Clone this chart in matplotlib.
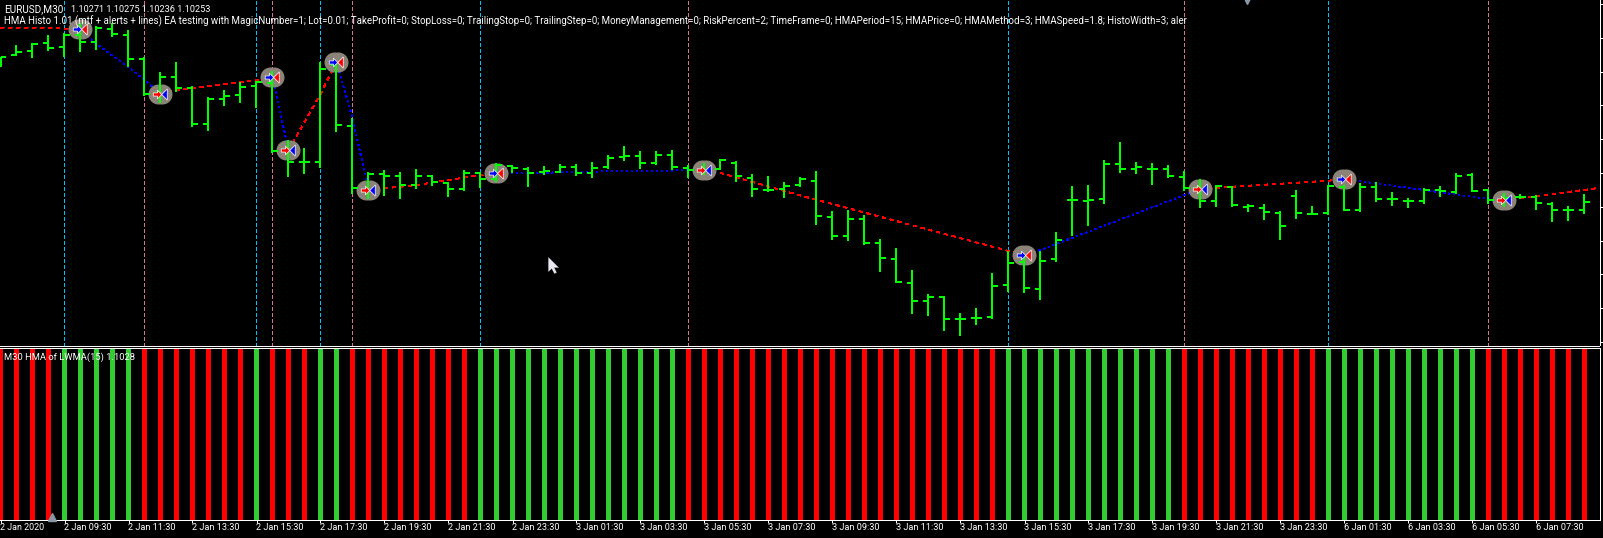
import matplotlib
matplotlib.use("Agg")
import matplotlib.pyplot as plt
from matplotlib.path import Path
from matplotlib.collections import LineCollection

W, H = 1603, 538

# Chart levels (the price scale has no visible labels; level grows downward)
highs = [56.7,45,43,35,33,23,26,23,30,57,72.3,61.7,86,97.3,90,81.7,81,71,140,148,61.7,63,117.7,172.3,170,
         171.7,169.3,175,182,170,172,163.3,165.3,167.3,166,164,164,162,155,146,151,151,150,165,163.3,159.3,161,174,176,182,
         177.3,171,211.3,210,215,239,248,270,294,296.3,313,308,273,251,255,251,232,186,185,160,142,162,163,165,171,
         179,184.7,186,204,204,211,190,206,185,185,183.3,182,192,198,188.3,186,173,173,189,193,194,195,202,206,194]
lows = [66.7,56,58,50.7,56.7,51.7,50,37,66.7,95.7,103,91.7,126.7,130.7,106,103.3,107.7,153.3,176.7,174,167.7,131.7,194,199,195.7,
        199,189.3,186,196.7,190.7,188,181.7,172.7,187,175,172.7,176,178,169,161,169,165,170,178,175,170,182,197,192,198,
        186.7,225,240,240.7,245,272,283,314,316,331,336,325,319,292,293,300,262,236,226,204,173,174,185,178,191,
        208,207,207,212,220,240,219,215,215,210.7,212,202,206,208,204,197,194,192,204,207,199,210,222,221,214]
opens = [60,55,51,43.3,46.7,35,41.7,29,35,59,93,76.7,88.3,124,99.3,95,86,83,150,162.3,161.7,65,126,190,174.3,
         175.7,185,176,183,189,172.7,179,166,169,172,172,166.7,173,167,156.7,156,163,154.7,168,170,169,163.3,178,190,189,
         185,181,216.7,236,219,243,259,283,301,296.7,319,318,317,285,262,289,259,200,201,199,164,169,169,169,177,
         188,201,186.7,206.7,208,213,196,214,213,186.7,210,186.7,199,201,201,190,192,175,190,200,196.7,197,204,210,210]
closes = [56.7,51.7,44,47.7,35,41.7,28.3,34.3,59,94.3,77.3,88.3,124,99.3,96,86.7,81.7,150.7,161.7,162.3,69,125,188.3,174.3,175.7,
          185,176,182,189,172.7,179,165,168.3,173,171,166.7,173,168,158,156,162.7,154.7,167,170,170,160,176,189,190,186,
          179.3,216,236,219,243,258,282,301,297,319,319,318,286,263,288,261,240,200,200,164,169,167,169,176,188,
          201,186,205,206,212,226,213,214,186,210,186.7,199,199,201,190,191,176,191,200,198,196.7,203,210,210,202]

# Histogram direction per bar: g = rising, r = falling
hist_dir = list("rrrr" "ggggg" "rrrrrrr" "g" "rrr" "gg" "rrrrrrrr" "ggggggggggggg"
                "rrrrrrrrrrrrrrrrrrrr" "ggggggggggg" "rrrrrrrrr" "gggggggggg" "rrrrrrr")

# Bars carrying a trade's vertical line
buy_lines = [4, 16, 20, 30, 63, 83]
sell_lines = [9, 17, 22, 43, 74, 93]

# Trade markers (bar index, level, kind)
trade_bars = [5, 10, 17, 18, 21, 23, 31, 44, 64, 75, 84, 94]
trade_levels = [29, 94, 77, 150, 62, 190, 173, 170, 255, 189, 179, 200]
trade_kinds = ["b", "r", "b", "r", "b", "r", "b", "r", "b", "r", "b", "r"]

# Connecting lines between trades, in bar index / level
red_segments = [
    ([0, 4, 5], [27.7, 28.5, 29]),
    ([10, 11, 16, 17], [94, 90, 80, 77]),
    ([18, 20, 21], [150, 94, 62]),
    ([23, 26, 30, 31], [190, 185, 175, 173]),
    ([44, 45, 50, 63, 64], [170, 173, 195.5, 251, 255]),
    ([75, 76, 83, 84], [189, 187.7, 180.7, 179]),
    ([94, 99.9], [200, 188]),
]
blue_segments = [
    ([5, 6, 8, 9, 10], [29, 44, 67, 80, 94]),
    ([17, 18], [77, 150]),
    ([21, 22, 23], [62, 118, 190]),
    ([31, 33, 37.5, 42, 44], [173, 173, 171.5, 170.5, 170]),
    ([64, 65, 74, 75], [255, 250, 195, 189]),
    ([84, 93, 94], [179, 199, 200]),
]

tick_idx = list(range(0, 100, 4))
tick_labels = ["2 Jan 2020", "2 Jan 09:30", "2 Jan 11:30", "2 Jan 13:30", "2 Jan 15:30", "2 Jan 17:30",
               "2 Jan 19:30", "2 Jan 21:30", "2 Jan 23:30", "3 Jan 01:30", "3 Jan 03:30", "3 Jan 05:30",
               "3 Jan 07:30", "3 Jan 09:30", "3 Jan 11:30", "3 Jan 13:30", "3 Jan 15:30", "3 Jan 17:30",
               "3 Jan 19:30", "3 Jan 21:30", "3 Jan 23:30", "6 Jan 01:30", "6 Jan 03:30", "6 Jan 05:30",
               "6 Jan 07:30"]
price_ticks = [4.2, 37.9, 71.6, 105.3, 139, 173, 207, 241, 274, 308, 342]

symbol_text = "EURUSD,M30"
ohlc_text = "1.10271 1.10275 1.10236 1.10253"
header2 = ("HMA Histo 1.01 (mtf + alerts + lines) EA testing with MagicNumber=1; Lot=0.01; TakeProfit=0; "
           "StopLoss=0; TrailingStop=0; TrailingStep=0; MoneyManagement=0; RiskPercent=2; TimeFrame=0; "
           "HMAPeriod=15; HMAPrice=0; HMAMethod=3; HMASpeed=1.8; HistoWidth=3; aler")
sub_label = "M30 HMA of LWMA(15) 1.1028"

PX = 0.72  # one pixel in points at dpi 100
GREEN, LIME, RED, BLUE = "#32CD32", "#00FF00", "#FF0000", "#0000FF"
plt.rcParams["font.family"] = ["Roboto", "DejaVu Sans"]

fig = plt.figure(figsize=(W / 100, H / 100), dpi=100, facecolor="black")
renderer = fig.canvas.get_renderer()

def box(x0, y0, x1, y1):
    return [x0 / W, 1 - y1 / H, (x1 - x0) / W, (y1 - y0) / H]

def fit(text, width_px):
    text.set_fontsize(text.get_fontsize() * width_px / text.get_window_extent(renderer).width)
    return text

ax = fig.add_axes(box(0, 0, 1599.5, 345.5), facecolor="black")
sub = fig.add_axes(box(0, 347.5, 1599.5, 519.5), facecolor="black")
xlim = (-0.5 / 16, 1599 / 16)
ax.set_xlim(xlim)
sub.set_xlim(xlim)
ax.set_ylim(345.5, 0)
sub.set_ylim(0, 1)

for a in (ax, sub):
    for s in a.spines.values():
        s.set_color("white")
        s.set_linewidth(PX)
ax.spines["left"].set_visible(False)
ax.spines["top"].set_visible(False)
sub.spines["left"].set_visible(False)

# price axis ticks
ax.yaxis.tick_right()
ax.set_yticks(price_ticks)
ax.set_yticklabels([])
ax.tick_params(axis="y", colors="white", length=3 * PX, width=PX, direction="out")
ax.set_xticks([])
sub.set_yticks([])
sub.set_xticks(tick_idx)
sub.set_xticklabels([])
sub.tick_params(axis="x", colors="white", length=3 * PX, width=PX, direction="out")
for i, t in zip(tick_idx, tick_labels):
    lab = sub.annotate(t, (i, 0), xycoords=("data", "axes fraction"), xytext=(0, -8.6 * PX * 0.92),
                       textcoords="offset points", color="white", fontsize=7.5, ha="left", va="center",
                       annotation_clip=False)
    fit(lab, 44 if t == "2 Jan 2020" else 47.5)

# vertical trade lines
for a in (ax, sub):
    a.vlines(buy_lines, 0, 1, transform=a.get_xaxis_transform(), colors="#00BFFF",
             linewidth=PX, linestyles=[(0, (4, 2.5))], zorder=1, antialiased=False)
    a.vlines(sell_lines, 0, 1, transform=a.get_xaxis_transform(), colors="#DB7093",
             linewidth=PX, linestyles=[(0, (4, 2.5))], zorder=1, antialiased=False)

# histogram
sub.bar(range(len(hist_dir)), [1] * len(hist_dir), width=5 / 16, bottom=0,
        color=[GREEN if d == "g" else RED for d in hist_dir], linewidth=0, zorder=2)

# connecting lines
for xs, ys in red_segments:
    ax.plot(xs, ys, color=RED, lw=PX, ls=(0, (3, 5)), zorder=2, antialiased=False)
for xs, ys in blue_segments:
    ax.plot(xs, ys, color=BLUE, lw=PX, ls=(0, (1.5, 4)), zorder=2, antialiased=False)

# marker discs
disc_size = (20 * PX) ** 2
for off in (-2 / 16, 2 / 16):
    ax.scatter([b + off for b in trade_bars], trade_levels, s=disc_size, color="#8B8378",
               linewidths=0, zorder=3)

# OHLC bars
idx = range(len(highs))
tick = 5.5 / 16
segs = [[(i, h), (i, l)] for i, h, l in zip(idx, highs, lows)]
segs += [[(i - tick, o), (i, o)] for i, o in zip(idx, opens)]
segs += [[(i, c), (i + tick, c)] for i, c in zip(idx, closes)]
ax.add_collection(LineCollection(segs, colors=LIME, linewidths=2 * PX, capstyle="butt", zorder=4))

# trade arrows
arrow = Path([(-4, -1.5), (0, -1.5), (0, -4), (4, 0), (0, 4), (0, 1.5), (-4, 1.5), (-4, -1.5)], closed=True)
tri = Path([(2.5, -5), (2.5, 5), (-2.5, 0), (2.5, -5)], closed=True)
for b, lv, k in zip(trade_bars, trade_levels, trade_kinds):
    c1, c2 = (BLUE, RED) if k == "b" else (RED, BLUE)
    ax.plot([b - 3.2 / 16], [lv], marker=arrow, ms=8.5 * PX, mfc=c1, mec="white", mew=0.7 * PX, ls="none", zorder=5)
    ax.plot([b + 3.2 / 16], [lv], marker=tri, ms=11 * PX, mfc=c2, mec="white", mew=0.7 * PX, ls="none", zorder=5)

# chart-shift and scale-fix triangles, mouse pointer
ax.plot([77.9], [-1], marker="v", ms=10 * PX, color="#8A97A5", clip_on=False, ls="none", zorder=6)
sub.plot([3.2], [0.012], marker="^", ms=8 * PX, color="#8A97A5", ls="none", zorder=6, clip_on=False)
cursor = Path([(0, 0), (0, -14), (3.2, -11), (6, -16), (8, -15), (5.5, -10), (10, -10), (0, 0)], closed=True)
ax.plot([34.2], [257], marker=cursor, ms=32 * PX, mfc="#E8E8F0", mec="#E8E8F0", mew=0.2, ls="none", zorder=7)

# header texts
y1, y2 = 1 - 9 / 345.5, 1 - 21.7 / 345.5
fit(ax.text(4 / 1599.5, y1, symbol_text, transform=ax.transAxes, color="white", fontsize=7.5, va="center", zorder=8), 59)
fit(ax.text(70.7 / 1599.5, y1, ohlc_text, transform=ax.transAxes, color="white", fontsize=7.5, va="center", zorder=8), 140)
fit(ax.text(4 / 1599.5, y2, header2, transform=ax.transAxes, color="white", fontsize=7.5, va="center", zorder=8), 1187)
fit(sub.text(4 / 1599.5, 1 - 9.5 / 172, sub_label, transform=sub.transAxes, color="white", fontsize=7.5, va="center", zorder=8), 131)

fig.savefig("out.png", dpi=100, facecolor="black")
